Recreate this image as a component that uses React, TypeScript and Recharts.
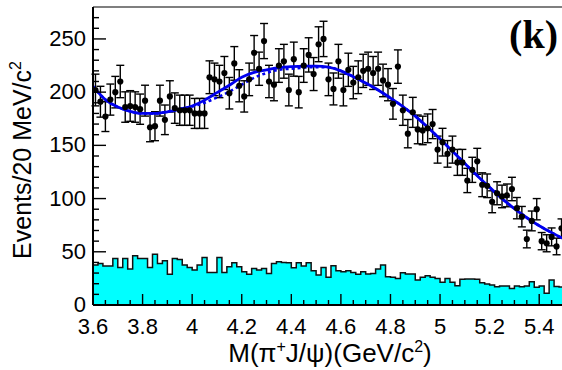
import React from 'react';
import { ComposedChart, Area, Line, Scatter, ErrorBar, XAxis, YAxis, ReferenceLine } from 'recharts';

const BIN_START = 3.6;
const BIN_WIDTH = 0.02;
const X_END = 5.5;

// data points (events per 20 MeV bin)
const dataCounts = [
  202, 191, 177, 193, 200, 210, 186, 187, 186, 184,
  192, 167, 168, 192, 174, 196, 185, 183, 183, 183,
  180, 180, 180, 214, 212, 210, 218, 199, 227, 206,
  196, 212, 237, 222, 248, 210, 207, 225, 229, 202,
  231, 200, 225, 235, 217, 245, 250, 212, 203, 229,
  202, 221, 209, 214, 220, 222, 218, 222, 211, 207,
  189, 224, 183, 161, 181, 165, 164, 166, 170, 146,
  153, 142, 146, 134, 134, 117, 127, 135, 113, 112,
  97, 105, 102, 103, 109, 91, 83, 62, 79, 90,
  60, 58, 64, 55, 72,
];

const dataErrors = [
  14.9, 14.5, 14.0, 14.6, 14.8, 15.2, 14.3, 14.4, 14.3, 14.2,
  14.5, 13.6, 13.6, 14.5, 13.9, 14.7, 14.3, 14.2, 14.2, 14.2,
  14.1, 14.1, 14.1, 15.4, 15.3, 15.2, 15.5, 14.8, 15.8, 15.1,
  14.7, 15.3, 16.2, 15.6, 16.5, 15.2, 15.1, 15.8, 15.9, 14.9,
  16.0, 14.8, 15.8, 16.1, 15.5, 16.4, 16.6, 15.3, 15.0, 15.9,
  14.9, 15.6, 15.2, 15.4, 15.6, 15.6, 15.5, 15.6, 15.3, 15.1,
  14.4, 15.7, 14.2, 13.3, 14.1, 13.5, 13.4, 13.5, 13.7, 12.7,
  13.0, 12.5, 12.7, 12.2, 12.2, 11.4, 11.8, 12.2, 11.2, 11.1,
  10.3, 10.8, 10.6, 10.7, 11.0, 10.0, 9.6, 8.3, 9.3, 10.0,
  8.1, 8.0, 8.4, 7.8, 8.9,
];

// background histogram (cyan)
const bgCounts = [
  37.5, 39, 36.6, 36.6, 43.8, 35.3, 43.8, 33.8, 46.3, 43.8,
  43.8, 35.3, 47.8, 39, 41.6, 29, 43.8, 42.8, 37.5, 35.3,
  32.8, 37.5, 44.7, 30.6, 30.6, 44.7, 30.6, 36, 39.7, 36,
  31.3, 29, 34.4, 32.8, 34.4, 29.7, 39, 40.6, 40, 39.7,
  35, 39.7, 36.6, 39.7, 32.2, 28.1, 35.3, 26, 36.9, 32.2,
  31.3, 32.2, 30.6, 28.8, 31.3, 29.1, 29.7, 33.8, 37.5, 26.6,
  26, 25, 30.3, 29.1, 29.1, 23.5, 26, 27.5, 26, 25,
  21.3, 25, 21.3, 18.1, 24.1, 24.4, 24.4, 24.1, 20.9, 19.7,
  18.8, 17.2, 17.8, 17.8, 15.6, 17.8, 17.2, 17.8, 21.9, 16.6,
  17.8, 11, 23.5, 17.5, 17,
];

// fit curves
const fitMass = [
  3.6, 3.65, 3.7, 3.75, 3.8, 3.85, 3.9, 3.95, 4, 4.05, 4.1, 4.15, 4.2,
  4.25, 4.3, 4.35, 4.4, 4.45, 4.5, 4.55, 4.6, 4.65, 4.7, 4.75, 4.8, 4.85,
  4.9, 4.95, 5, 5.05, 5.1, 5.15, 5.2, 5.25, 5.3, 5.35, 5.4, 5.45, 5.5,
];
const fitTotal = [
  205.5, 193, 186, 182, 180, 180, 181.5, 184, 187, 192.5, 199.5, 206.5, 214,
  218.5, 221, 223, 224, 224.5, 224.5, 223.5, 220, 214.5, 208.5, 202, 194.5, 186.5,
  177.5, 167, 156, 144.5, 133, 121.5, 110.5, 100, 90.5, 82, 74.5, 68, 62,
];
const fitAlt = [
  205.5, 193, 186, 182, 180, 180, 181.5, 184, 186.5, 190, 195, 200.5, 207,
  213.5, 218, 221, 222, 223, 223.5, 223.5, 220, 214.5, 208.5, 202, 194.5, 186.5,
  177.5, 167, 156, 144.5, 133, 121.5, 110.5, 100, 90.5, 82, 74.5, 68, 62,
];

const xMajorTicks = [3.6, 3.8, 4, 4.2, 4.4, 4.6, 4.8, 5, 5.2, 5.4];
const xAllTicks = [
  3.6, 3.65, 3.7, 3.75, 3.8, 3.85, 3.9, 3.95, 4, 4.05, 4.1, 4.15, 4.2, 4.25,
  4.3, 4.35, 4.4, 4.45, 4.5, 4.55, 4.6, 4.65, 4.7, 4.75, 4.8, 4.85, 4.9, 4.95,
  5, 5.05, 5.1, 5.15, 5.2, 5.25, 5.3, 5.35, 5.4, 5.45,
];
const yMajorTicks = [0, 50, 100, 150, 200, 250];
const yAllTicks = [
  0, 10, 20, 30, 40, 50, 60, 70, 80, 90, 100, 110, 120, 130, 140, 150,
  160, 170, 180, 190, 200, 210, 220, 230, 240, 250, 260, 270,
];

const pointData = dataCounts.map((v, i) => ({
  x: BIN_START + BIN_WIDTH * (i + 0.5),
  y: v,
  err: dataErrors[i],
}));
const bgData = [
  ...bgCounts.map((v, i) => ({ x: BIN_START + BIN_WIDTH * i, y: v })),
  { x: X_END, y: bgCounts[bgCounts.length - 1] },
];
const fitData = fitMass.map((m, i) => ({ x: m, y: fitTotal[i] }));
const altData = fitMass.map((m, i) => ({ x: m, y: fitAlt[i] }));

const FONT = '"Liberation Sans", Arial, Helvetica, sans-serif';

const XTick = (props: any) => {
  const { x, y, payload } = props;
  const major = xMajorTicks.includes(payload.value);
  return (
    <g>
      <line x1={x} x2={x} y1={y} y2={y - (major ? 11 : 5)} stroke="#000" strokeWidth={1.4} />
      {major && (
        <text x={x} y={y + 29} textAnchor="middle" fontSize={22} fill="#000" fontFamily={FONT}>
          {payload.value}
        </text>
      )}
    </g>
  );
};

const YTick = (props: any) => {
  const { x, y, payload } = props;
  const major = yMajorTicks.includes(payload.value);
  return (
    <g>
      <line x1={x} x2={x + (major ? 13 : 6)} y1={y} y2={y} stroke="#000" strokeWidth={1.4} />
      {major && (
        <text x={x - 7} y={y + 7} textAnchor="end" fontSize={22} fill="#000" fontFamily={FONT}>
          {payload.value}
        </text>
      )}
    </g>
  );
};

const Dot = (p: any) => <circle cx={p.cx} cy={p.cy} r={3.1} fill="#000" />;

export default function App() {
  return (
    <div style={{ position: 'fixed', left: 0, top: 0, width: 562, height: 370, overflow: 'hidden', background: '#fff', fontFamily: FONT }}>
      <ComposedChart width={564} height={370} margin={{ top: 7, right: 0, bottom: 0, left: 0 }}>
        <XAxis
          type="number"
          dataKey="x"
          domain={[BIN_START, X_END]}
          ticks={xAllTicks}
          interval={0}
          allowDataOverflow
          height={65}
          tickSize={0}
          tickMargin={0}
          tickLine={false}
          tick={<XTick />}
          axisLine={{ stroke: '#000', strokeWidth: 2 }}
        />
        <YAxis
          type="number"
          dataKey="y"
          domain={[0, 280]}
          ticks={yAllTicks}
          interval={0}
          allowDataOverflow
          width={93}
          tickSize={0}
          tickMargin={0}
          tickLine={false}
          tick={<YTick />}
          axisLine={{ stroke: '#000', strokeWidth: 2 }}
        />
        <ReferenceLine y={280} stroke="#000" strokeWidth={1.2} />
        <Area
          data={bgData}
          dataKey="y"
          type="stepAfter"
          fill="#00ffff"
          fillOpacity={1}
          stroke="#111"
          strokeWidth={1.5}
          isAnimationActive={false}
        />
        <Scatter data={pointData} dataKey="y" fill="#000" shape={<Dot />} isAnimationActive={false}>
          <ErrorBar dataKey="err" direction="y" width={4} stroke="#000" strokeWidth={1.4} />
        </Scatter>
        <Line
          data={altData}
          dataKey="y"
          type="monotone"
          stroke="#0000ee"
          strokeWidth={2.5}
          strokeDasharray="3 3"
          dot={false}
          isAnimationActive={false}
        />
        <Line
          data={fitData}
          dataKey="y"
          type="monotone"
          stroke="#0000ee"
          strokeWidth={2.8}
          dot={false}
          isAnimationActive={false}
        />
      </ComposedChart>
      <svg width={562} height={370} style={{ position: 'absolute', left: 0, top: 0, pointerEvents: 'none' }}>
        <text x={558} y={48} textAnchor="end" fontSize={40} fontWeight="bold" fontFamily='"Liberation Serif", "Times New Roman", serif' fill="#000">
          (k)
        </text>
        <text x={330} y={362} textAnchor="middle" fontSize={26} fontFamily={FONT} fill="#000">
          M(π<tspan dy={-10} fontSize={16}>+</tspan>
          <tspan dy={10}>J/ψ)(GeV/c</tspan>
          <tspan dy={-10} fontSize={16}>2</tspan>
          <tspan dy={10}>)</tspan>
        </text>
        <text transform="translate(31,160) rotate(-90)" textAnchor="middle" fontSize={25} fontFamily={FONT} fill="#000">
          Events/20 MeV/c<tspan dy={-10} fontSize={16}>2</tspan>
        </text>
      </svg>
    </div>
  );
}
